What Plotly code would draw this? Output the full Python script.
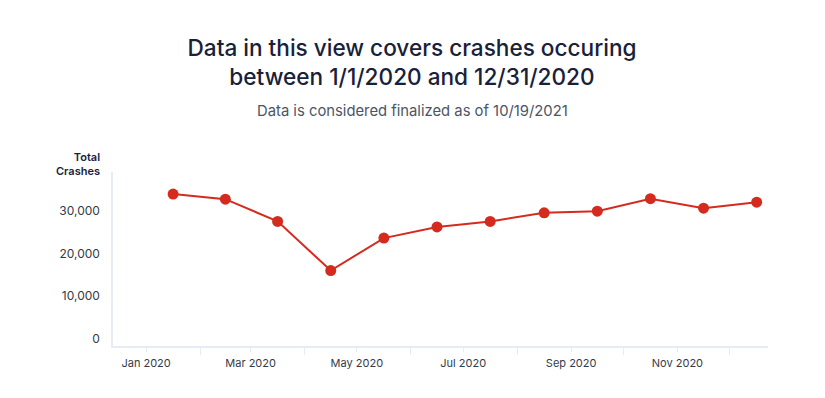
import plotly.graph_objects as go

months = ["2020-01-01", "2020-02-01", "2020-03-01", "2020-04-01", "2020-05-01", "2020-06-01",
          "2020-07-01", "2020-08-01", "2020-09-01", "2020-10-01", "2020-11-01", "2020-12-01"]
total_crashes = [33900, 32700, 27500, 16000, 23600, 26200, 27500, 29500, 29900, 32800, 30600, 32000]

title_text = "Data in this view covers crashes occuring<br>between 1/1/2020 and 12/31/2020"
subtitle_text = "Data is considered finalized as of 10/19/2021"
y_title = "Total<br>Crashes"

FONT = "Inter, Noto Sans, sans-serif"
RED = "#d52b1e"
OFF = 8  # page body margin offset

fig = go.Figure()
fig.add_trace(go.Scatter(
    x=months, y=total_crashes, mode="lines+markers",
    xperiod="M1", xperiodalignment="middle",
    line=dict(color=RED, width=2),
    marker=dict(color=RED, size=11),
    showlegend=False,
))

W, H = 825, 398
L, T = 113 - OFF, 172 - OFF
R = W - (768 - OFF)
B = H - (346 - OFF)
PW, PH = W - L - R, H - T - B

fig.update_layout(
    width=W, height=H,
    margin=dict(l=L, r=R, t=T, b=B),
    paper_bgcolor="white", plot_bgcolor="white",
    font=dict(family=FONT, color="#333a48", size=11),
    title=dict(text=title_text, x=(412 - OFF) / W, xanchor="center",
               y=1 - (56 - OFF) / H, yanchor="middle",
               font=dict(family=FONT, size=22.6, color="#18213a", weight=500)),
    annotations=[
        dict(text=subtitle_text, xref="paper", yref="paper",
             x=(412 - 113) / PW, y=(346 - 111) / PH,
             xanchor="center", yanchor="middle", showarrow=False,
             font=dict(family=FONT, size=14.8, color="#4a5568")),
        dict(text=y_title, xref="paper", yref="paper",
             x=(102 - 113) / PW, y=(346 - 164) / PH,
             xanchor="right", yanchor="middle", align="right", showarrow=False,
             font=dict(family=FONT, size=11, color="#18213a", weight=600)),
    ],
)

fig.update_xaxes(
    type="date", range=["2019-12-13", "2020-12-23"],
    dtick="M2", tick0="2020-01-01", tickformat="%b %Y",
    ticks="outside", ticklen=4, tickcolor="#e6ebf5", tickwidth=1,
    ticklabelstandoff=2,
    minor=dict(dtick="M1", ticks="outside", ticklen=7, tickcolor="#e6ebf5", tickwidth=1),
    showline=True, linecolor="#e6ebf5", linewidth=1.5,
    showgrid=False, zeroline=False,
    tickfont=dict(family=FONT, size=11, color="#333a48"),
)
fig.update_yaxes(
    range=[-1640, 39050], tickvals=[0, 10000, 20000, 30000], tickformat=",",
    showline=True, linecolor="#e6ebf5", linewidth=1.5,
    showgrid=False, zeroline=False, ticks="", ticklabelstandoff=9,
    tickfont=dict(family=FONT, size=12, color="#333a48"),
)

fig.write_html("out.html")
